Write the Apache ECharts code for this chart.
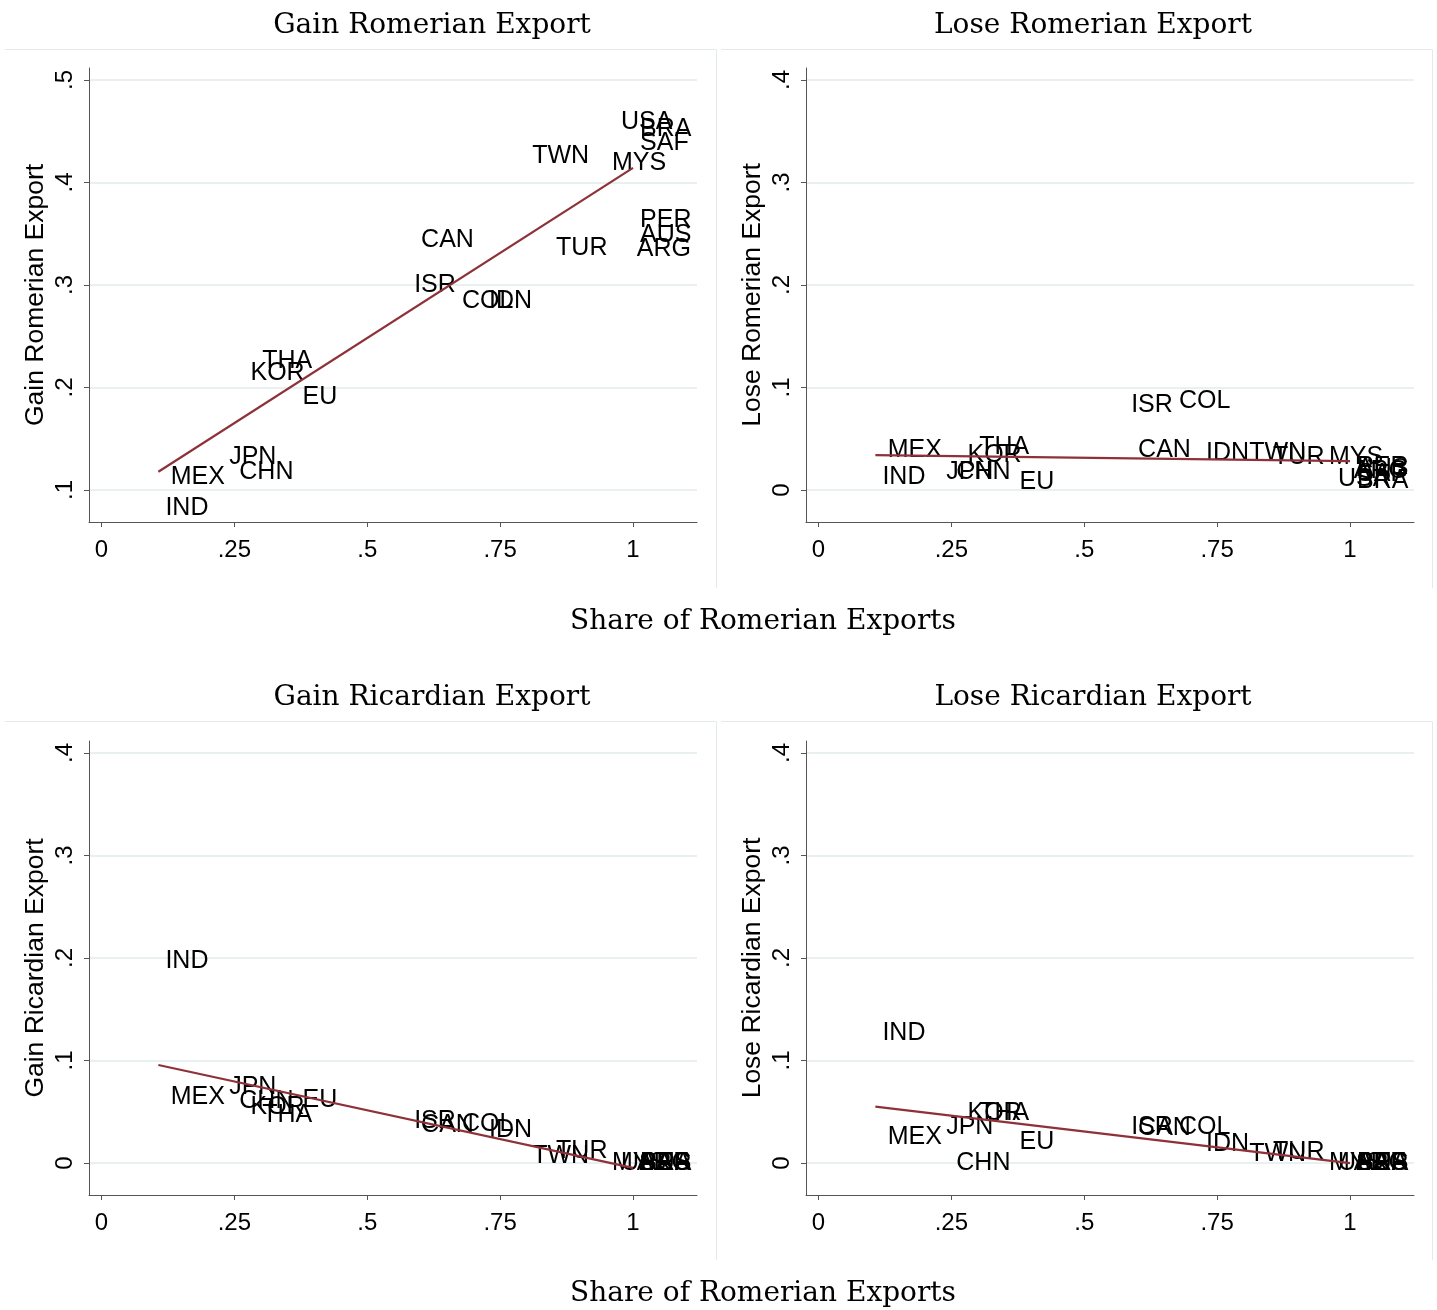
<!DOCTYPE html>
<html>
<head>
<meta charset="utf-8">
<title>Romerian and Ricardian Exports</title>
<script src="https://cdn.jsdelivr.net/npm/echarts@6/dist/echarts.min.js"></script>
<style>
  html, body { margin: 0; padding: 0; background: #ffffff; }
  #chart { width: 1437px; height: 1310px; }
</style>
</head>
<body>
<div id="chart"></div>
<script>
// Country codes, one entry per exporter
const countries = ['IND', 'MEX', 'JPN', 'CHN', 'KOR', 'THA', 'EU', 'ISR', 'CAN', 'COL',
                   'IDN', 'TWN', 'TUR', 'MYS', 'USA', 'BRA', 'SAF', 'PER', 'AUS', 'ARG'];

// Share of Romerian exports (common x variable)
const romerShare = [0.107, 0.117, 0.227, 0.246, 0.267, 0.289, 0.365, 0.575, 0.588, 0.665,
                    0.716, 0.797, 0.842, 0.947, 0.964, 1.000, 1.000, 1.000, 1.000, 0.994];

// Outcomes per country
const gainRomerian  = [0.082, 0.113, 0.132, 0.117, 0.214, 0.226, 0.191, 0.300, 0.344, 0.284,
                       0.284, 0.426, 0.336, 0.419, 0.459, 0.452, 0.438, 0.363, 0.349, 0.335];
const loseRomerian  = [0.013, 0.039, 0.017, 0.017, 0.034, 0.042, 0.008, 0.083, 0.039, 0.087,
                       0.036, 0.036, 0.032, 0.032, 0.011, 0.009, 0.016, 0.022, 0.020, 0.018];
const gainRicardian = [0.197, 0.064, 0.074, 0.060, 0.055, 0.047, 0.061, 0.041, 0.037, 0.038,
                       0.032, 0.007, 0.012, 0.000, 0.000, 0.000, 0.000, 0.000, 0.000, 0.000];
const loseRicardian = [0.127, 0.025, 0.035, 0.000, 0.049, 0.049, 0.020, 0.035, 0.034, 0.035,
                       0.018, 0.009, 0.011, 0.000, 0.000, 0.000, 0.000, 0.000, 0.000, 0.000];

// Tick values
const xTicks = [0, 0.25, 0.5, 0.75, 1];
const yTicksGainRom = [0.1, 0.2, 0.3, 0.4, 0.5];
const yTicksOther = [0, 0.1, 0.2, 0.3, 0.4];

const titles = ['Gain Romerian Export', 'Lose Romerian Export', 'Gain Ricardian Export', 'Lose Ricardian Export'];
const xTitle = 'Share of Romerian Exports';

// Stata-style tick text: 0.25 -> ".25", 0 -> "0"
function tickText(v) {
  if (v === 0) return '0';
  return String(+v.toFixed(3)).replace(/^0\./, '.');
}

// Ordinary least squares fit over the observed x range
function linearFit(xs, ys) {
  const n = xs.length;
  let mx = 0, my = 0;
  for (let i = 0; i < n; i++) { mx += xs[i]; my += ys[i]; }
  mx /= n; my /= n;
  let sxy = 0, sxx = 0;
  for (let i = 0; i < n; i++) { sxy += (xs[i] - mx) * (ys[i] - my); sxx += (xs[i] - mx) * (xs[i] - mx); }
  const b = sxy / sxx, a = my - b * mx;
  const lo = Math.min.apply(null, xs), hi = Math.max.apply(null, xs);
  return [[lo, a + b * lo], [hi, a + b * hi]];
}

const SANS = 'Liberation Sans, Arial, sans-serif';
const SERIF = 'DejaVu Serif, serif';
const INK = '#000000';
const AXIS = '#555555';
const GRIDLINE = '#e8f0f1';
const FIT = '#8e3139';
const FRAME = '#e3eaec';

const panels = [
  { values: gainRomerian,  ticks: yTicksGainRom, min: 0.0688,  max: 0.5117, col: 0, row: 0 },
  { values: loseRomerian,  ticks: yTicksOther,   min: -0.0312, max: 0.4117, col: 1, row: 0 },
  { values: gainRicardian, ticks: yTicksOther,   min: -0.0312, max: 0.4117, col: 0, row: 1 },
  { values: loseRicardian, ticks: yTicksOther,   min: -0.0312, max: 0.4117, col: 1, row: 1 }
];

const gridLefts = [89, 806];
const gridTops = [68, 741];
const gridW = 608, gridH = 454;

const grid = [], xAxis = [], yAxis = [], series = [], title = [], frames = [];

panels.forEach((p, i) => {
  const left = gridLefts[p.col], top = gridTops[p.row];
  grid.push({ left: left, top: top, width: gridW, height: gridH, containLabel: false });

  xAxis.push({
    type: 'value', gridIndex: i, min: -0.0235, max: 1.1204,
    axisLine: { show: true, onZero: false, lineStyle: { color: AXIS, width: 1 } },
    axisTick: { show: true, length: 5, lineStyle: { color: AXIS }, customValues: xTicks },
    axisLabel: { show: true, margin: 16, fontSize: 24, fontFamily: SANS, color: INK,
                 customValues: xTicks, formatter: tickText },
    splitLine: { show: false }
  });

  yAxis.push({
    type: 'value', gridIndex: i, min: p.min, max: p.max,
    name: titles[i], nameLocation: 'middle', nameGap: 40,
    nameTextStyle: { fontSize: 26.5, fontFamily: SANS, color: INK },
    axisLine: { show: true, onZero: false, lineStyle: { color: AXIS, width: 1 } },
    axisTick: { show: true, length: 5, lineStyle: { color: AXIS }, customValues: p.ticks },
    axisLabel: { show: true, rotate: 90, margin: 12, fontSize: 24, fontFamily: SANS, color: INK,
                 customValues: p.ticks, formatter: tickText },
    splitLine: { show: true, lineStyle: { color: GRIDLINE, width: 2 } }
  });

  const pts = romerShare.map((x, k) => [x, p.values[k], countries[k]]);
  series.push({
    type: 'scatter', xAxisIndex: i, yAxisIndex: i, data: pts,
    symbolSize: 0.1, itemStyle: { color: '#000000', opacity: 1 }, silent: true,
    label: { show: true, position: 'right', distance: 7, formatter: d => d.data[2],
             fontSize: 25, fontFamily: SANS, color: INK, opacity: 1,
             textBorderWidth: 0 },
    z: 2
  });
  series.push({
    type: 'line', xAxisIndex: i, yAxisIndex: i, data: linearFit(romerShare, p.values),
    symbol: 'none', silent: true, lineStyle: { color: FIT, width: 2.2 }, z: 3
  });

  title.push({
    text: titles[i], left: [427, 1088][p.col], top: [7, 679][p.row], textAlign: 'center',
    textStyle: { fontSize: 28, fontWeight: 'normal', fontFamily: SERIF, color: INK }
  });
});

// Shared x-axis title under each row
title.push({ text: xTitle, left: 758, top: 603, textAlign: 'center',
             textStyle: { fontSize: 28, fontWeight: 'normal', fontFamily: SERIF, color: INK } });
title.push({ text: xTitle, left: 758, top: 1275, textAlign: 'center',
             textStyle: { fontSize: 28, fontWeight: 'normal', fontFamily: SERIF, color: INK } });

// Light top and right edges of each sub-graph region
[[5, 49], [721, 49], [5, 721], [721, 721]].forEach(([x, y]) => {
  const x2 = x + 711.5, y1 = y + 0.5, y2 = y + 539;
  frames.push({ type: 'polyline', shape: { points: [[x, y1], [x2, y1], [x2, y2]] },
                style: { fill: null, stroke: FRAME, lineWidth: 1 }, silent: true, z: -1 });
});

const chart = echarts.init(document.getElementById('chart'), null, { renderer: 'canvas' });
chart.setOption({
  animation: false,
  backgroundColor: '#ffffff',
  title: title,
  grid: grid,
  xAxis: xAxis,
  yAxis: yAxis,
  series: series,
  graphic: { elements: frames }
});
</script>
</body>
</html>
